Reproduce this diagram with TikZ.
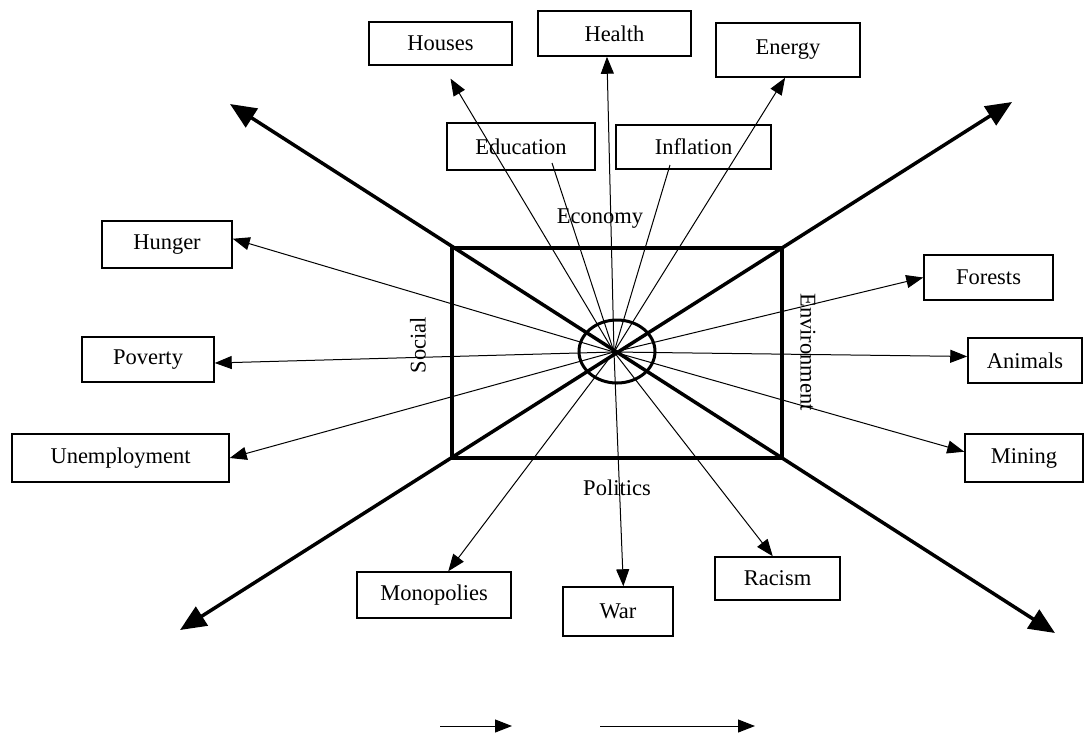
\documentclass[tikz,border=0pt]{standalone}
\usepackage{fontspec}
\setmainfont{Liberation Serif}
\usetikzlibrary{arrows.meta}

\begin{document}
\begin{tikzpicture}[x=0.5pt, y=-0.5pt,
  every node/.style={font=\fontsize{11.25}{13}\selectfont},
  box/.style={draw, line width=0.75pt, inner sep=0pt},
  link/.style={line width=0.5pt, -{Triangle[length=8.5pt,width=6.5pt]}},
  axis/.style={line width=1.75pt, {Triangle[length=13pt,width=11pt]}-{Triangle[length=13pt,width=11pt]}}]

\useasboundingbox (0,0) rectangle (1084,736);

\coordinate (hub) at (614,352);
\coordinate (tl) at (230,104);
\coordinate (br) at (1055,633);
\coordinate (bl) at (180,630);
\coordinate (tr) at (1012,102);

\node[box, minimum width=71.5pt, minimum height=21.5pt] (houses) at (440.5,43.5) {Houses};
\node[box, minimum width=76.5pt, minimum height=22.5pt] (health) at (614.5,33.5) {Health};
\node[box, minimum width=72pt, minimum height=27pt] (energy) at (788,50) {Energy};
\node[box, minimum width=74pt, minimum height=23.5pt] (education) at (521,146.5) {Education};
\node[box, minimum width=77.5pt, minimum height=22pt] (inflation) at (693.5,147) {Inflation};

\node[box, minimum width=65pt, minimum height=23.5pt] (hunger) at (167,244.5) {Hunger};
\node[box, minimum width=66pt, minimum height=22.5pt] (poverty) at (148,359.5) {Poverty};
\node[box, minimum width=108.5pt, minimum height=24pt] (unemployment) at (120.5,458) {Unemployment};

\node[box, minimum width=64.5pt, minimum height=22.5pt] (forests) at (988.5,277.5) {Forests};
\node[box, minimum width=57pt, minimum height=22.5pt] (animals) at (1025,360.5) {Animals};
\node[box, minimum width=59pt, minimum height=24pt] (mining) at (1024,458) {Mining};

\node[box, minimum width=77pt, minimum height=23pt] (monopolies) at (434,595) {Monopolies};
\node[box, minimum width=55pt, minimum height=24.5pt] (war) at (618,611.5) {War};
\node[box, minimum width=62.5pt, minimum height=21.5pt] (racism) at (777.5,578.5) {Racism};

\node (economy) at (600,219) {Economy};
\node (politics) at (617,488) {Politics};
\node[rotate=90] (social) at (418,345) {Social};
\node[rotate=-90] (environment) at (808,352) {Environment};

\draw[link, shorten >=7.5pt] (hub) -- (houses.-84);
\draw[link] (hub) -- (health.-108);
\draw[link] (hub) -- (energy.-96);
\draw[line width=0.5pt] (hub) -- ([shift={(31,16.5)}]education.center);
\draw[line width=0.5pt] (hub) -- ([shift={(-23.5,18)}]inflation.center);
\draw[link] (hub) -- (hunger.5);
\draw[link] (hub) -- (poverty.-3);
\draw[link] (hub) -- (unemployment.0);
\draw[link] (hub) -- (forests.180);
\draw[link] (hub) -- (animals.176);
\draw[link] (hub) -- (mining.174);
\draw[link] (hub) -- (monopolies.59);
\draw[link] (hub) -- (war.78);
\draw[link] (hub) -- (racism.102);

\draw[line width=1.75pt] (452,248) rectangle (782,458);
\draw[line width=1.5pt] (617,351.5) ellipse [x radius=19pt, y radius=15.75pt];
\draw[axis] (tl) -- (br);
\draw[axis] (bl) -- (tr);

\coordinate (a1) at (440,726);
\coordinate (a2) at (512,726);
\coordinate (b1) at (600,726);
\coordinate (b2) at (755,726);
\draw[link] (a1) -- (a2);
\draw[link] (b1) -- (b2);

\end{tikzpicture}
\end{document}
